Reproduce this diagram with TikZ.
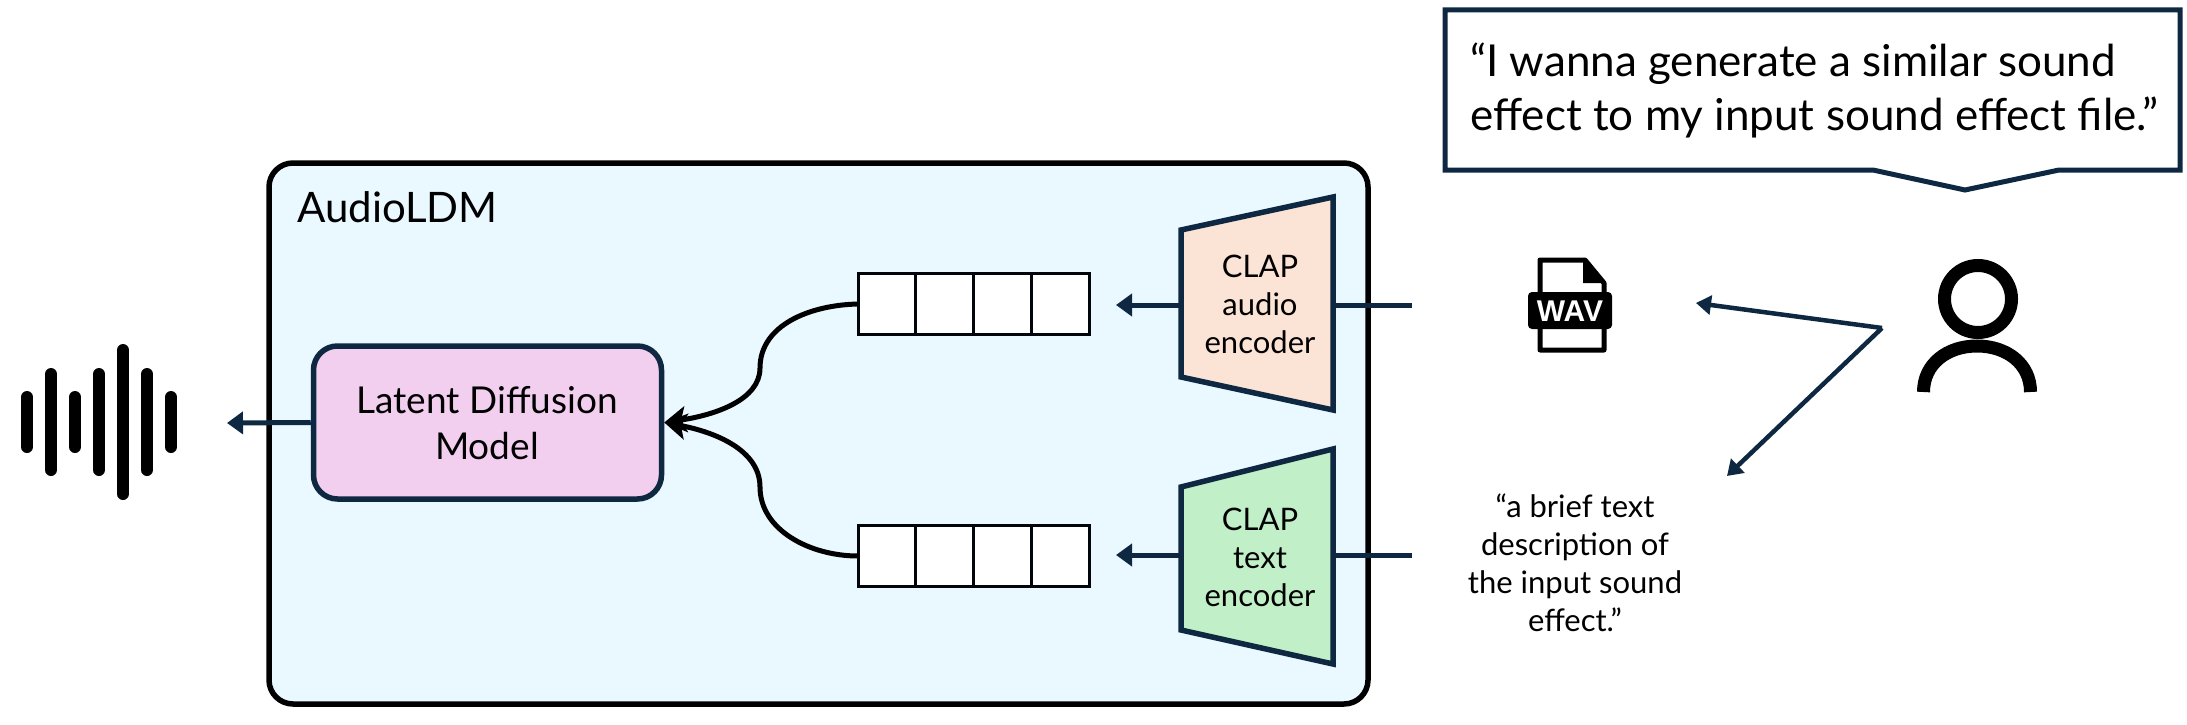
\documentclass[tikz,border=0pt]{standalone}
\usepackage{fontspec}
\setmainfont{Lato}
\newfontfamily\wavfont{Liberation Sans}
\usetikzlibrary{arrows.meta,calc,positioning}
\definecolor{navy}{HTML}{0E2841}
\definecolor{panel}{HTML}{EAF8FF}
\definecolor{ldmfill}{HTML}{F2CEEF}
\definecolor{audiofill}{HTML}{FBE3D6}
\definecolor{textfill}{HTML}{C1F0C8}
\newcommand{\fs}[2]{\fontsize{#1}{#2}\selectfont}
\tikzset{
  x=1pt,y=-1pt,
  panelbox/.style={draw=black,line width=5.5pt,fill=panel,rounded corners=24pt},
  ldmbox/.style={draw=navy,line width=5.5pt,fill=ldmfill,rounded corners=24pt,minimum width=348pt,minimum height=153pt,inner sep=0pt},
  cell/.style={draw=black!85!navy,line width=3pt,fill=white,minimum width=57.75pt,minimum height=61pt,inner sep=0pt,outer sep=0pt},
  trap/.style={draw=navy,line width=5.5pt,line join=miter},
  flow/.style={draw=navy,line width=5pt,-{Triangle[length=16pt,width=22pt]}},
  plain/.style={draw=navy,line width=5pt},
  thin flow/.style={draw=navy,line width=4.5pt,-{Triangle[length=15pt,width=19pt]}},
  merge/.style={draw=black,line width=5pt,-{Stealth[length=22pt,width=26pt,inset=5pt]}},
  lbl/.style={inner sep=0pt,align=center,text=black},
  small/.style={lbl,font=\fs{31}{38}},
  wavebar/.style={line width=12pt,line cap=round,black},
}
\begin{document}
\begin{tikzpicture}
\useasboundingbox (0,0) rectangle (2187,725);
\fill[white] (0,0) rectangle (2187,725);
% panel
\path[panelbox] (269,163) rectangle (1368,704);
\node[lbl,anchor=west,font=\fs{42}{48}] (title) at (297,207) {AudioLDM};
% LDM
\node[ldmbox] (ldm) at (487.5,422.5) {};
\node[lbl,font=\fs{37}{46}] (ldmtext) at (487,423) {Latent Diffusion\\Model};
% cells
\foreach \n/\y in {a/304,b/556}{
  \node[cell,anchor=west] (\n1) at (858,\y) {};
  \node[cell,right=0pt of \n1] (\n2) {};
  \node[cell,right=0pt of \n2] (\n3) {};
  \node[cell,right=0pt of \n3] (\n4) {};
}
% trapezoids
\draw[trap,fill=audiofill] (1181,230) -- (1333,197) -- (1333,410) -- (1181,377) -- cycle;
\draw[trap,fill=textfill] (1181,487) -- (1333,449) -- (1333,664) -- (1181,630) -- cycle;
\coordinate (eaL) at (1181,305);\coordinate (eaR) at (1333,305);
\coordinate (etL) at (1181,555);\coordinate (etR) at (1333,555);
\coordinate (eaOut) at (1116,305);\coordinate (etOut) at (1116,555);
\coordinate (eaIn) at (1412,305);\coordinate (etIn) at (1412,555);
\node[small] (eatext) at (1260,304) {CLAP\\audio\\encoder};
\node[small] (ettext) at (1260,557) {CLAP\\text\\encoder};
\draw[flow] (eaL) -- (eaOut);
\draw[flow] (etL) -- (etOut);
\draw[plain] (eaR) -- (eaIn);
\draw[plain] (etR) -- (etIn);
% merge curves
\draw[merge] (a1.west) .. controls (810,305) and (760,325) .. (760,368) .. controls (760,400) and (715,415) .. (ldm.east);
\draw[merge] (b1.west) .. controls (810,556) and (760,530) .. (760,487) .. controls (760,450) and (715,432) .. (ldm.east);
% output
\coordinate (wave) at (227,423);
\draw[flow] (ldm.west) -- (wave);
\foreach \x/\h in {27/25,51/48,75/25,99/48,123/72,147/48,171/25}
  \draw[wavebar] (\x,422-\h) -- (\x,422+\h);
% speech bubble
\draw[draw=navy,line width=5pt,fill=white,line join=miter] (1445,10) -- (2180,10) -- (2180,170) -- (2059,170) -- (1965,190) -- (1873,170) -- (1445,170) -- cycle;
\node[lbl,align=left,anchor=west,font=\fs{44}{54}] (quote) at (1470,90) {“I wanna generate a similar sound\\effect to my input sound effect file.”};
% WAV icon
\draw[black,line width=5pt,line join=round,fill=white] (1540,260) -- (1585,260) -- (1604,283) -- (1604,350) -- (1540,350) -- cycle;
\fill[black] (1583,258) -- (1606,283) -- (1583,283) -- cycle;
\fill[black,rounded corners=4pt] (1528,292) rectangle (1612,329);
\node[lbl,text=white,font=\fs{30}{30}\wavfont\bfseries] (wav) at (1570,311) {WAV};
% description
\node[small] (desc) at (1575,563) {“a brief text\\description of\\the input sound\\effect.”};
% person
\draw[black,line width=13pt] (1978,299) circle[radius=33.5];
\draw[black,line width=13pt] (1923.5,392) .. controls (1923.5,364) and (1947,346) .. (1977,346) .. controls (2007,346) and (2030.5,364) .. (2030.5,392);
% user arrows
\coordinate (user) at (1882,328);
\coordinate (wavIn) at (1696,303);
\coordinate (descIn) at (1727,476);
\draw[thin flow] (user) -- (wavIn);
\draw[thin flow] (user) -- (descIn);
\end{tikzpicture}
\end{document}
